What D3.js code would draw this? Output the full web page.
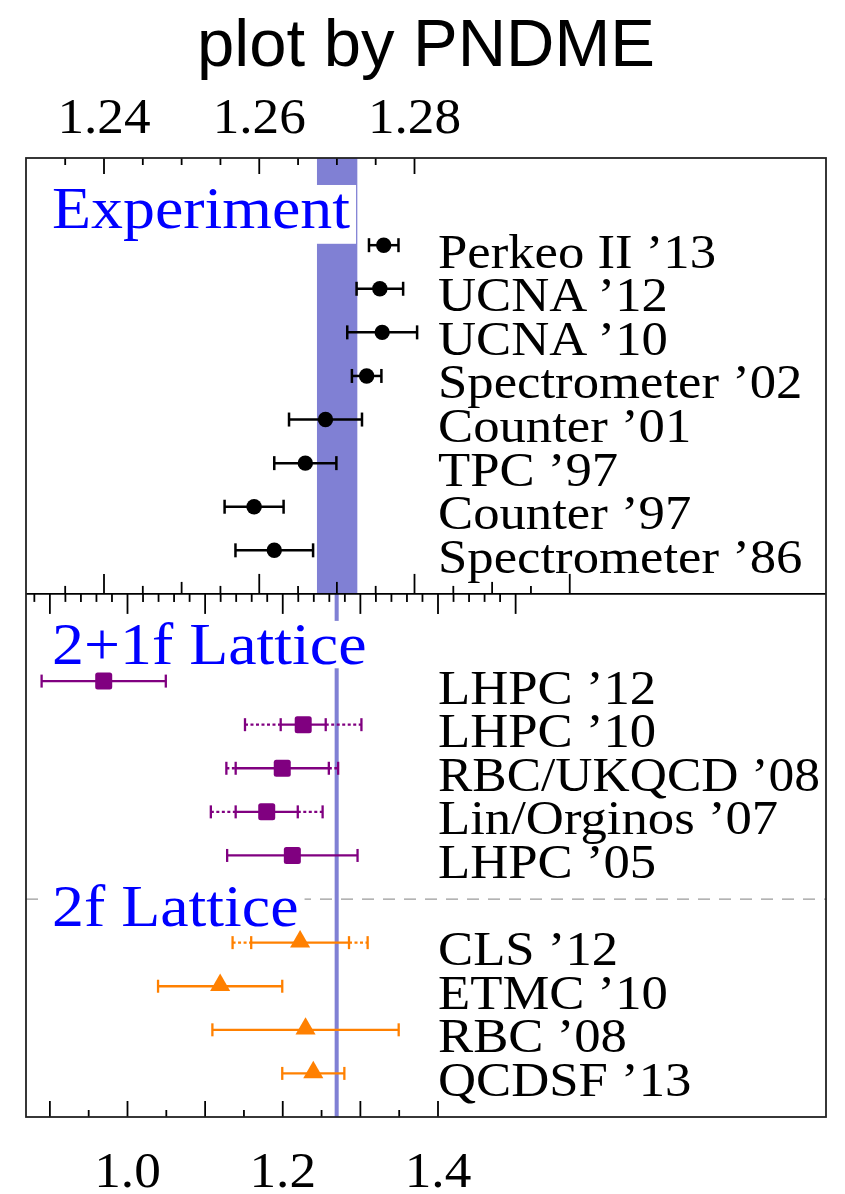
<!DOCTYPE html>
<html>
<head>
<meta charset="utf-8">
<script src="https://cdn.jsdelivr.net/npm/d3@7"></script>
<style>
  html, body { margin: 0; padding: 0; background: #fff; }
  svg { display: block; }
</style>
</head>
<body>
<svg id="chart" width="845" height="1194"></svg>
<script>
// ---- Experimental determinations of g_A ----
const expNames  = ["Perkeo II ’13", "UCNA ’12", "UCNA ’10", "Spectrometer ’02",
                   "Counter ’01", "TPC ’97", "Counter ’97", "Spectrometer ’86"];
const expValues = [1.2761, 1.2756, 1.2759, 1.2739, 1.2686, 1.2660, 1.2594, 1.2620];
const expErrors = [0.0019, 0.0030, 0.0045, 0.0019, 0.0047, 0.0040, 0.0038, 0.0050];

// ---- 2+1 flavour lattice results (statistical and total error) ----
const lat21Names  = ["LHPC ’12", "LHPC ’10", "RBC/UKQCD ’08", "Lin/Orginos ’07", "LHPC ’05"];
const lat21Values = [0.970, 1.227, 1.200, 1.180, 1.213];
const lat21Stat   = [0.080, 0.029, 0.060, 0.040, 0.084];
const lat21Total  = [0.080, 0.075, 0.072, 0.072, 0.084];

// ---- 2 flavour lattice results ----
const lat2Names  = ["CLS ’12", "ETMC ’10", "RBC ’08", "QCDSF ’13"];
const lat2Values = [1.223, 1.120, 1.230, 1.240];
const lat2Stat   = [0.063, 0.080, 0.120, 0.040];
const lat2Total  = [0.087, 0.080, 0.120, 0.040];

// ---- world average band ----
const gAAverage  = 1.2701;
const gABandHalf = 0.0026;

const groupTitles      = ["Experiment", "2+1f Lattice", "2f Lattice"];
const topTickLabels    = [1.24, 1.26, 1.28];
const bottomTickLabels = [1.0, 1.2, 1.4];

// ---- layout ----
const frame = { left: 26, right: 826, top: 158, bottom: 1117 };
const serif = "'Liberation Serif', 'Times New Roman', serif";
const sx = 1.065;
const stretch = `scale(${sx},1)`;

const svg = d3.select("#chart");

// experiment panel uses a zoomed axis, lattice panel a wide one
const xTop = d3.scaleLinear().domain([1.24, 1.28]).range([103.5, 414]);
const xBot = d3.scaleLinear().domain([1.0, 1.4]).range([127, 437.5]);
// row slots: experiment 0..7, 2+1f 10..14, 2f 16..19
const y = d3.scaleLinear().domain([-2, 20]).range([frame.top, frame.bottom]);
const ySplit = y(8);
const yDashed = y(15);

// ---- title ----
svg.append("text")
  .attr("x", 426).attr("y", 66)
  .attr("text-anchor", "middle")
  .style("font-family", "'Liberation Sans', Arial, Helvetica, sans-serif")
  .style("font-size", "67px")
  .attr("fill", "#000")
  .text("plot by PNDME");

// ---- average band ----
const bandColor = "#8080d4";
svg.append("rect")
  .attr("x", xTop(gAAverage - gABandHalf))
  .attr("width", xTop(gAAverage + gABandHalf) - xTop(gAAverage - gABandHalf))
  .attr("y", frame.top).attr("height", ySplit - frame.top)
  .attr("fill", bandColor);
svg.append("rect")
  .attr("x", xBot(gAAverage - gABandHalf))
  .attr("width", xBot(gAAverage + gABandHalf) - xBot(gAAverage - gABandHalf))
  .attr("y", ySplit).attr("height", frame.bottom - ySplit)
  .attr("fill", bandColor);

// ---- dashed divider between 2+1f and 2f ----
svg.append("line")
  .attr("x1", frame.left).attr("x2", frame.right)
  .attr("y1", yDashed).attr("y2", yDashed)
  .attr("stroke", "#9a9a9a").attr("stroke-width", 1.2)
  .attr("stroke-dasharray", "12,9");

// ---- group headings on white boxes ----
const headingSlots = [0, 10, 16];
const headingSize = 60;
groupTitles.forEach((t, i) => {
  const base = y(headingSlots[i] - 0.39);
  const g = svg.append("g");
  const box = g.append("rect").attr("fill", "#fff");
  const txt = g.append("text")
    .attr("transform", `translate(52,${base}) ${stretch}`)
    .style("font-family", serif)
    .style("font-size", headingSize + "px")
    .attr("fill", "#0000ff")
    .text(t);
  const len = txt.node().getComputedTextLength() * sx;
  const desc = /[gjpqy]/.test(t) ? 0.26 : 0.07;
  box.attr("x", 46).attr("width", len + 12)
     .attr("y", base - 0.72 * headingSize)
     .attr("height", (0.72 + desc) * headingSize);
});

// ---- axis ticks ----
function tickAxis(axisFn, scale, yPos, values, size) {
  const g = svg.append("g")
    .attr("transform", `translate(0,${yPos})`)
    .call(axisFn(scale).tickValues(values).tickSize(size).tickFormat(""));
  g.select(".domain").remove();
  g.selectAll(".tick line").attr("stroke", "#000").attr("stroke-width", 1.8);
  return g;
}
const isMult = (v, s) => Math.abs(v / s - Math.round(v / s)) < 1e-6;

// experiment panel: top edge and bottom edge
const topFine = d3.range(247, 257).map(k => k * 0.005);          // 1.235 .. 1.280
tickAxis(d3.axisBottom, xTop, frame.top, topFine.filter(v => isMult(v, 0.02)), 16);
tickAxis(d3.axisBottom, xTop, frame.top, topFine.filter(v => !isMult(v, 0.02)), 7);

const midFine = d3.range(247, 261).map(k => k * 0.005);          // 1.235 .. 1.300
tickAxis(d3.axisTop, xTop, ySplit, midFine.filter(v => isMult(v, 0.02)), 20);
tickAxis(d3.axisTop, xTop, ySplit, midFine.filter(v => !isMult(v, 0.02) && isMult(v, 0.01)), 12);
tickAxis(d3.axisTop, xTop, ySplit, midFine.filter(v => !isMult(v, 0.01)), 8);

// lattice panel: top edge and bottom edge
const latTop = d3.range(44, 76).map(k => k * 0.02);              // 0.88 .. 1.50
tickAxis(d3.axisBottom, xBot, ySplit, latTop.filter(v => isMult(v, 0.1)), 20);
tickAxis(d3.axisBottom, xBot, ySplit, latTop.filter(v => !isMult(v, 0.1)), 8);

const latBot = d3.range(18, 29).map(k => k * 0.05);              // 0.90 .. 1.40
tickAxis(d3.axisTop, xBot, frame.bottom, latBot.filter(v => isMult(v, 0.1)), 16);
tickAxis(d3.axisTop, xBot, frame.bottom, latBot.filter(v => !isMult(v, 0.1)), 7);

// tick labels
function labelAxis(axisFn, scale, yPos, values, fmt) {
  const g = svg.append("g")
    .attr("transform", `translate(0,${yPos})`)
    .call(axisFn(scale).tickValues(values).tickSize(0).tickPadding(0).tickFormat(d3.format(fmt)));
  g.select(".domain").remove();
  g.selectAll(".tick text")
    .attr("y", 0).attr("dy", null)
    .attr("transform", stretch)
    .attr("fill", "#000")
    .style("font-family", serif)
    .style("font-size", "50px");
}
labelAxis(d3.axisTop, xTop, 133, topTickLabels, ".2f");
labelAxis(d3.axisBottom, xBot, 1187, bottomTickLabels, ".1f");

// ---- data rows ----
function errorBar(g, x, yy, v, stat, total, color, width, cap) {
  // solid statistical part
  g.append("line")
    .attr("x1", x(v - stat)).attr("x2", x(v + stat))
    .attr("y1", yy).attr("y2", yy)
    .attr("stroke", color).attr("stroke-width", width);
  [v - stat, v + stat].forEach(e => g.append("line")
    .attr("x1", x(e)).attr("x2", x(e))
    .attr("y1", yy - cap).attr("y2", yy + cap)
    .attr("stroke", color).attr("stroke-width", width));
  // dotted extension up to the total error
  if (total > stat + 1e-9) {
    [[v - total, v - stat], [v + stat, v + total]].forEach(([a, b]) => g.append("line")
      .attr("x1", x(a)).attr("x2", x(b))
      .attr("y1", yy).attr("y2", yy)
      .attr("stroke", color).attr("stroke-width", width)
      .attr("stroke-dasharray", "3,2.5"));
    [v - total, v + total].forEach(e => g.append("line")
      .attr("x1", x(e)).attr("x2", x(e))
      .attr("y1", yy - cap).attr("y2", yy + cap)
      .attr("stroke", color).attr("stroke-width", width));
  }
}

const labelSize = 49.5;
const labelX = 438;
const labelMaxWidth = frame.right - labelX - 6;
function rowLabel(text, yy) {
  const t = svg.append("text")
    .style("font-family", serif)
    .style("font-size", labelSize + "px")
    .attr("fill", "#000")
    .text(text);
  // keep long names inside the frame
  const raw = t.node().getComputedTextLength();
  const k = Math.min(sx, labelMaxWidth / raw);
  t.attr("transform", `translate(${labelX},${yy + 22.5}) scale(${k},1)`);
}

// experiment
const gExp = svg.append("g");
expNames.forEach((n, i) => {
  const yy = y(i);
  errorBar(gExp, xTop, yy, expValues[i], expErrors[i], expErrors[i], "#000", 2.5, 7);
  gExp.append("path")
    .attr("transform", `translate(${xTop(expValues[i])},${yy})`)
    .attr("d", d3.symbol(d3.symbolCircle, Math.PI * 7.7 * 7.7)())
    .attr("fill", "#000");
  rowLabel(n, yy);
});

// 2+1 flavour
const purple = "#800080";
const g21 = svg.append("g");
lat21Names.forEach((n, i) => {
  const yy = y(10 + i);
  errorBar(g21, xBot, yy, lat21Values[i], lat21Stat[i], lat21Total[i], purple, 2.3, 6.5);
  const s = 17;
  g21.append("rect")
    .attr("x", xBot(lat21Values[i]) - s / 2).attr("y", yy - s / 2)
    .attr("width", s).attr("height", s).attr("rx", 2.5)
    .attr("fill", purple);
  rowLabel(n, yy);
});

// 2 flavour
const orange = "#ff8000";
const g2 = svg.append("g");
lat2Names.forEach((n, i) => {
  const yy = y(16 + i);
  errorBar(g2, xBot, yy, lat2Values[i], lat2Stat[i], lat2Total[i], orange, 2.3, 6.5);
  g2.append("path")
    .attr("transform", `translate(${xBot(lat2Values[i])},${yy - 1})`)
    .attr("d", d3.symbol(d3.symbolTriangle, 175)())
    .attr("fill", orange);
  rowLabel(n, yy);
});

// ---- frame and panel divider ----
svg.append("line")
  .attr("x1", frame.left).attr("x2", frame.right)
  .attr("y1", ySplit).attr("y2", ySplit)
  .attr("stroke", "#000").attr("stroke-width", 1.6);
svg.append("rect")
  .attr("x", frame.left).attr("y", frame.top)
  .attr("width", frame.right - frame.left).attr("height", frame.bottom - frame.top)
  .attr("fill", "none").attr("stroke", "#222").attr("stroke-width", 1.8);
</script>
</body>
</html>
